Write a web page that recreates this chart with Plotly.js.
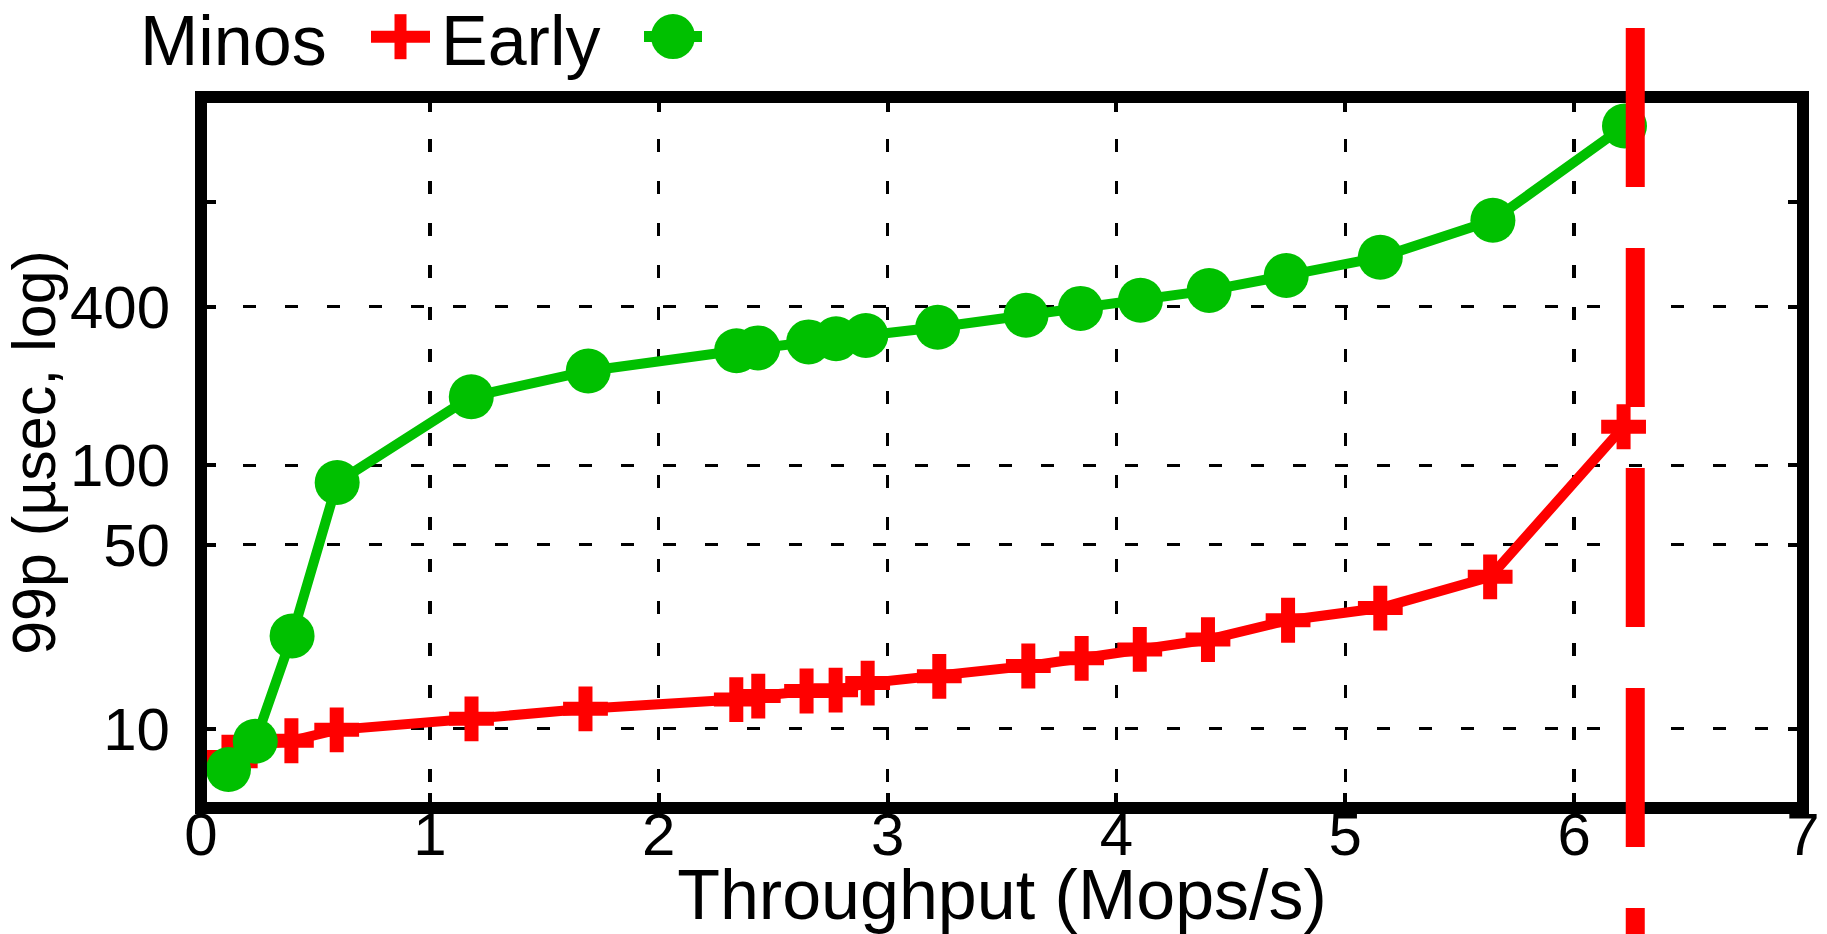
<!DOCTYPE html>
<html>
<head>
<meta charset="utf-8">
<script src="https://cdn.plot.ly/plotly-3.0.1.min.js"></script>
<style>
html,body{margin:0;padding:0;background:#fff;}
#chart{width:1827px;height:934px;}
</style>
</head>
<body>
<div id="chart"></div>
<script>
// ---- data ----
const seriesNames = ['Minos', 'Early'];
const minosThroughput = [0.12, 0.217, 0.395, 0.593, 1.182, 1.680, 2.339, 2.435, 2.646, 2.773, 2.913, 3.226, 3.615, 3.848, 4.102, 4.400, 4.750, 5.153, 5.633, 6.216];
const minosP99        = [7.8, 8.6, 9.0, 9.9, 10.9, 11.9, 12.9, 13.3, 13.9, 14.0, 14.9, 15.8, 17.3, 18.5, 20.0, 21.8, 25.8, 28.7, 37.7, 140];
const earlyThroughput = [0.12, 0.237, 0.398, 0.595, 1.181, 1.692, 2.340, 2.433, 2.655, 2.775, 2.905, 3.219, 3.605, 3.843, 4.105, 4.405, 4.742, 5.153, 5.645, 6.220];
const earlyP99        = [7.0, 8.96, 22.5, 86, 182, 228, 272, 279, 294, 302, 311, 334, 371, 394, 423, 461, 525, 616, 851, 1940];
const saturationThroughput = [6.267];
const xTickVals = [0, 1, 2, 3, 4, 5, 6, 7];
const yTickVals = [10, 50, 100, 400];
const yTickText = ['10', '50', '100', '400'];
const yMinorTickVals = [1000];
const xRange = [0, 7];
const yRange = [5, 2500];
const xTitle = 'Throughput (Mops/s)';
const yTitle = '99p (µsec, log)';

// ---- styles ----
const RED = '#ff0000';
const GREEN = '#00c000';
const FONT = 'Liberation Sans, Arial, Helvetica, sans-serif';

const traces = [
  {
    type: 'scatter', mode: 'lines+markers', name: seriesNames[0],
    x: minosThroughput, y: minosP99,
    line: {color: RED, width: 10},
    marker: {symbol: 'cross-thin', size: 32, color: RED, line: {color: RED, width: 14}},
    showlegend: false, cliponaxis: false
  },
  {
    type: 'scatter', mode: 'lines+markers', name: seriesNames[1],
    x: earlyThroughput, y: earlyP99,
    line: {color: GREEN, width: 10},
    marker: {symbol: 'circle', size: 45, color: GREEN, line: {width: 0}},
    showlegend: false, cliponaxis: false
  }
];

// plot area geometry (pixels) used to place legend keys in paper coords
const M = {l: 201, r: 24, t: 97, b: 126};
const W = 1827, H = 934;
const PW = W - M.l - M.r, PH = H - M.t - M.b;
const px2x = p => (p - M.l) / PW;
const py2y = p => (H - M.b - p) / PH;

const keyRed = {x: px2x(400.5), y: py2y(36.7)};
const keyGreen = {x: px2x(673), y: py2y(36.6)};

function keyShape(anchor, extra) {
  return Object.assign({
    xref: 'paper', yref: 'paper', xsizemode: 'pixel', ysizemode: 'pixel',
    xanchor: anchor.x, yanchor: anchor.y, layer: 'above'
  }, extra);
}

const shapes = [
  // frame
  {type: 'rect', xref: 'paper', yref: 'paper', x0: 0, x1: 1, y0: 0, y1: 1,
   line: {color: '#000', width: 12}, fillcolor: 'rgba(0,0,0,0)', layer: 'above'},
  // saturation line
  {type: 'line', xref: 'x', yref: 'paper',
   x0: saturationThroughput[0], x1: saturationThroughput[0],
   y0: py2y(28), y1: py2y(1000),
   line: {color: RED, width: 19, dash: '159px,61px'}, layer: 'above'},
  // legend keys
  keyShape(keyRed, {type: 'line', x0: -29.5, x1: 29.5, y0: 0, y1: 0, line: {color: RED, width: 12}}),
  keyShape(keyRed, {type: 'line', x0: 0, x1: 0, y0: -22.5, y1: 22.5, line: {color: RED, width: 12}}),
  keyShape(keyGreen, {type: 'line', x0: -29, x1: 29, y0: 0, y1: 0, line: {color: GREEN, width: 11}}),
  keyShape(keyGreen, {type: 'circle', x0: -22, x1: 22, y0: -22.5, y1: 22.5,
                      fillcolor: GREEN, line: {width: 0}})
];

const annotations = [
  {text: seriesNames[0], xref: 'paper', yref: 'paper', x: px2x(139), y: py2y(1),
   xanchor: 'left', yanchor: 'top', showarrow: false, borderpad: 0,
   font: {family: FONT, size: 70, color: '#000'}},
  {text: seriesNames[1], xref: 'paper', yref: 'paper', x: px2x(439.5), y: py2y(1),
   xanchor: 'left', yanchor: 'top', showarrow: false, borderpad: 0,
   font: {family: FONT, size: 70, color: '#000'}}
];

const axisCommon = {
  showline: true, linewidth: 1, linecolor: 'rgba(0,0,0,0)', mirror: 'ticks',
  ticks: 'inside', ticklen: 15, tickwidth: 4, tickcolor: '#000',
  showgrid: true, gridcolor: '#000', gridwidth: 3.5, griddash: '13px,29px',
  zeroline: false, tickfont: {family: FONT, size: 60, color: '#000'},
  automargin: false
};

const layout = {
  width: W, height: H,
  margin: M,
  paper_bgcolor: '#fff', plot_bgcolor: '#fff',
  showlegend: false,
  font: {family: FONT, color: '#000'},
  xaxis: Object.assign({}, axisCommon, {
    range: xRange, tickmode: 'array', tickvals: xTickVals,
    ticklabelstandoff: -26,
    title: {text: xTitle, font: {family: FONT, size: 70, color: '#000'}, standoff: 12}
  }),
  yaxis: Object.assign({}, axisCommon, {
    type: 'log', range: yRange.map(Math.log10),
    tickmode: 'array', tickvals: yTickVals, ticktext: yTickText,
    minor: {tickmode: 'array', tickvals: yMinorTickVals, ticks: 'inside', ticklen: 15,
            tickwidth: 4, tickcolor: '#000', showgrid: false},
    ticklabelstandoff: 18,
    title: {text: yTitle, font: {family: FONT, size: 61, color: '#000'}, standoff: 0}
  }),
  shapes: shapes,
  annotations: annotations
};

Plotly.newPlot('chart', traces, layout, {displayModeBar: false, staticPlot: true});
</script>
</body>
</html>
